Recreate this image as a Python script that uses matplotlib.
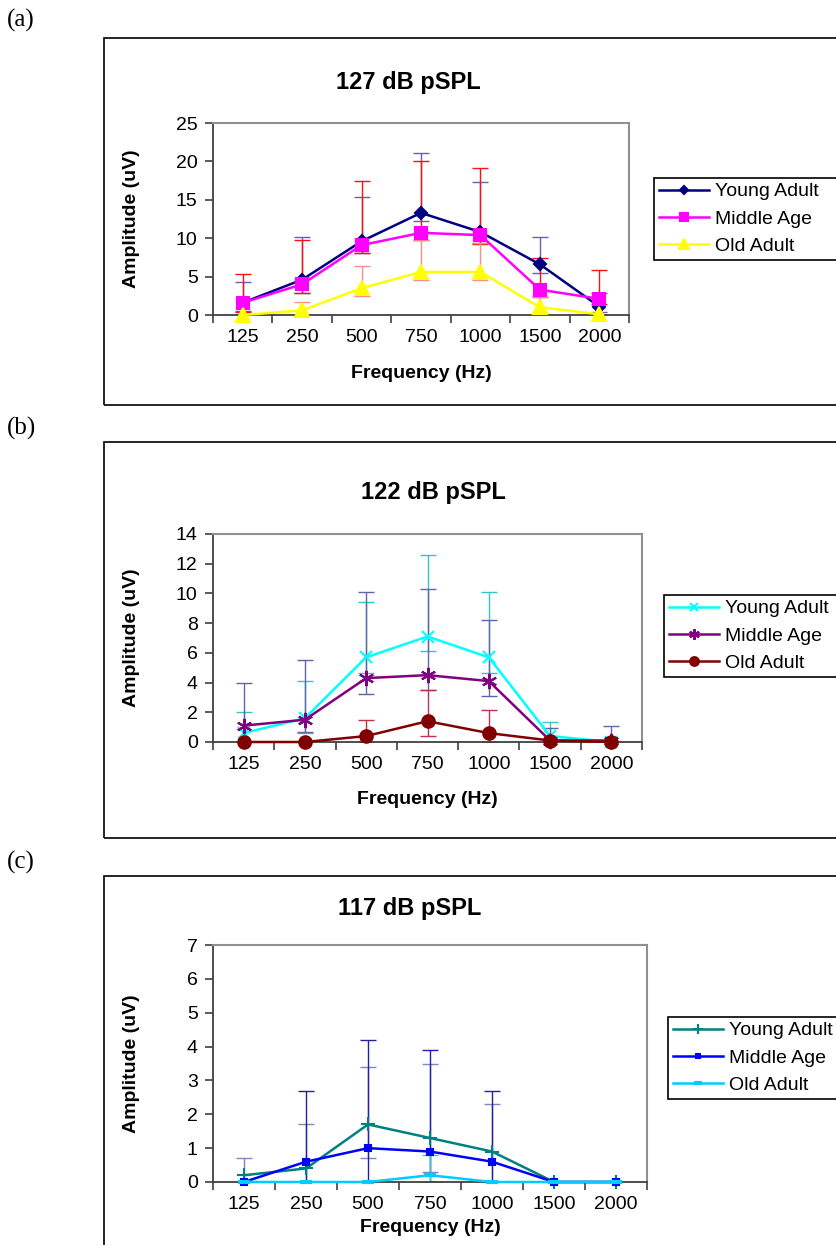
import numpy as np
import matplotlib.pyplot as plt
from matplotlib.patches import Rectangle

plt.rcParams['font.family'] = ['Liberation Sans', 'DejaVu Sans']

freqs = ['125', '250', '500', '750', '1000', '1500', '2000']
groups = ['Young Adult', 'Middle Age', 'Old Adult']

# (a) 127 dB pSPL : means, error bar tops, error bar bottoms
a_young = [1.6, 4.6, 9.6, 13.3, 10.8, 6.6, 1.1]
a_young_hi = [4.3, 10.2, 15.3, 21.1, 17.3, 10.2, 2.9]
a_young_lo = [0.5, 2.9, 8.1, 12.3, 9.4, 5.5, 0.4]
a_middle = [1.6, 4.0, 9.1, 10.7, 10.4, 3.3, 2.1]
a_middle_hi = [5.3, 9.75, 17.4, 20.1, 19.2, 7.45, 5.9]
a_middle_lo = [0.4, 2.9, 8.1, 9.75, 9.3, 2.3, 1.4]
a_old = [0.0, 0.6, 3.5, 5.6, 5.6, 1.0, 0.1]
a_old_hi = [0.0, 1.7, 6.4, 9.75, 9.4, 2.3, 0.1]
a_old_lo = [0.0, 0.0, 2.5, 4.6, 4.6, 0.3, 0.0]

# (b) 122 dB pSPL
b_young = [0.6, 1.6, 5.7, 7.1, 5.7, 0.4, 0.0]
b_young_hi = [2.0, 4.1, 9.4, 12.6, 10.1, 1.35, 0.0]
b_young_lo = [0.0, 0.6, 4.65, 6.1, 4.65, 0.0, 0.0]
b_middle = [1.1, 1.5, 4.3, 4.5, 4.1, 0.1, 0.1]
b_middle_hi = [4.0, 5.5, 10.1, 10.3, 8.2, 0.97, 1.08]
b_middle_lo = [0.0, 0.65, 3.26, 3.53, 3.08, 0.0, 0.0]
b_old = [0.0, 0.0, 0.4, 1.4, 0.6, 0.1, 0.0]
b_old_hi = [0.0, 0.0, 1.5, 3.53, 2.18, 0.1, 0.0]
b_old_lo = [0.0, 0.0, 0.0, 0.38, 0.0, 0.1, 0.0]

# (c) 117 dB pSPL
c_young = [0.2, 0.4, 1.7, 1.3, 0.9, 0.0, 0.0]
c_young_hi = [0.7, 1.7, 3.4, 3.5, 2.3, 0.0, 0.0]
c_young_lo = [0.0, 0.0, 0.7, 0.3, 0.0, 0.0, 0.0]
c_middle = [0.0, 0.6, 1.0, 0.9, 0.6, 0.0, 0.0]
c_middle_hi = [0.0, 2.7, 4.2, 3.9, 2.7, 0.0, 0.0]
c_middle_lo = [0.0, 0.0, 0.0, 0.0, 0.0, 0.0, 0.0]
c_old = [0.0, 0.0, 0.0, 0.2, 0.0, 0.0, 0.0]
c_old_hi = [0.0, 0.0, 0.0, 0.8, 0.0, 0.0, 0.0]
c_old_lo = [0.0, 0.0, 0.0, 0.0, 0.0, 0.0, 0.0]

W, H = 836, 1245


def fx(px):
    return px / W


def fy(py):
    return 1 - py / H


fig = plt.figure(figsize=(W / 100, H / 100), dpi=100)

panels = [
    dict(tag='(a)', tag_y=20, title='127 dB pSPL', title_xy=(408, 82),
         box=(38, 405), ax_box=(213, 123, 629, 315), ymax=25, ystep=5,
         leg_xy=(654, 178), xlab_y=373,
         series=[(a_young, a_young_hi, a_young_lo, '#000080', 'D', 6, '#6262b4'),
                 (a_middle, a_middle_hi, a_middle_lo, '#ff00ff', 's', 9, '#ff1010'),
                 (a_old, a_old_hi, a_old_lo, '#ffff00', '^', 9.5, '#ff8a8a')]),
    dict(tag='(b)', tag_y=428, title='122 dB pSPL', title_xy=(433, 492),
         box=(442, 838), ax_box=(213, 534, 642, 742), ymax=14, ystep=2,
         leg_xy=(664, 595), xlab_y=800,
         series=[(b_young, b_young_hi, b_young_lo, '#00ffff', 'x', 9, '#33c4c4'),
                 (b_middle, b_middle_hi, b_middle_lo, '#800080', (6, 2, 0), 11, '#6464a8'),
                 (b_old, b_old_hi, b_old_lo, '#800000', 'o', 9, '#c03050')]),
    dict(tag='(c)', tag_y=862, title='117 dB pSPL', title_xy=(410, 908),
         box=(876, 1260), ax_box=(213, 945, 647, 1182), ymax=7, ystep=1,
         leg_xy=(668, 1017), xlab_y=1228,
         series=[(c_young, c_young_hi, c_young_lo, '#008080', '+', 10, '#8484c4'),
                 (c_middle, c_middle_hi, c_middle_lo, '#0000ff', 's', 4, '#2020a8'),
                 (c_old, c_old_hi, c_old_lo, '#00ccff', '_', 9, '#33cccc')]),
]

x = np.arange(len(freqs))

for p in panels:
    # outer chart frame
    top, bot = p['box']
    fig.add_artist(Rectangle((fx(104), fy(bot)), 1.0, (bot - top) / H,
                             transform=fig.transFigure, fill=False,
                             ec='black', lw=1.2))
    fig.text(fx(7), fy(p['tag_y']), p['tag'], family='Liberation Serif',
             fontsize=18, ha='left', va='center')
    fig.text(fx(p['title_xy'][0]), fy(p['title_xy'][1]), p['title'],
             fontsize=17, fontweight='bold', ha='center', va='center')

    l, t, r, b = p['ax_box']
    ax = fig.add_axes([fx(l), fy(b), (r - l) / W, (b - t) / H])

    handles = []
    for mean, hi, lo, col, mk, ms, ecol in p['series']:
        mean = np.array(mean)
        hi = np.array(hi)
        lo = np.array(lo)
        up = hi > mean
        dn = lo < mean
        ax.vlines(x[up], mean[up], hi[up], color=ecol, lw=1, zorder=2)
        ax.vlines(x[dn], lo[dn], mean[dn], color=ecol, lw=1, zorder=2)
        ax.plot(x[up], hi[up], ls='none', marker='_', ms=11, mew=1,
                color=ecol, zorder=2)
        ax.plot(x[dn], lo[dn], ls='none', marker='_', ms=11, mew=1,
                color=ecol, zorder=2)
        mew = 3 if mk == '_' else 1.5
        h, = ax.plot(x, mean, color=col, lw=1.8, marker=mk, ms=ms,
                     mfc=col, mec=col, mew=mew, zorder=3, clip_on=False)
        handles.append(h)

    ax.set_xlim(-0.5, len(freqs) - 0.5)
    ax.set_ylim(0, p['ymax'])
    ax.set_yticks(np.arange(0, p['ymax'] + 0.1, p['ystep']))
    ax.set_xticks(np.arange(-0.5, len(freqs)), labels=[])
    ax.set_xticks(x, labels=freqs, minor=True)
    ax.tick_params(axis='x', which='minor', length=0, pad=10, labelsize=14)
    ax.tick_params(axis='x', which='major', length=6, width=1.2,
                   color='#404040', direction='out')
    ax.tick_params(axis='y', length=6, width=1.2, color='#404040',
                   direction='out', pad=5, labelsize=14)
    for s in ['top', 'right']:
        ax.spines[s].set_color('#909090')
        ax.spines[s].set_linewidth(1.5)
    for s in ['left', 'bottom']:
        ax.spines[s].set_color('#404040')
        ax.spines[s].set_linewidth(1.3)

    ax.set_xlabel('Frequency (Hz)', fontsize=14, fontweight='bold')
    ax.xaxis.label.set_va('center')
    ax.xaxis.set_label_coords(0.5, (b - p['xlab_y']) / (b - t))
    ax.set_ylabel('Amplitude (uV)', fontsize=14, fontweight='bold')
    ax.yaxis.label.set_va('center')
    ax.yaxis.set_label_coords((131 - l) / (r - l), 0.5)

    lx, ly = p['leg_xy']
    leg = ax.legend(handles, groups, loc='upper left',
                    bbox_to_anchor=(fx(lx), fy(ly), 0.3, 0),
                    bbox_transform=fig.transFigure, mode='expand',
                    borderaxespad=0, fontsize=14, handlelength=2.6,
                    handletextpad=0.3, labelspacing=0.5, borderpad=0.25,
                    markerscale=0.7, fancybox=False, framealpha=1,
                    edgecolor='black')
    leg.get_frame().set_linewidth(1.2)

fig.savefig('out.png', dpi=100)
